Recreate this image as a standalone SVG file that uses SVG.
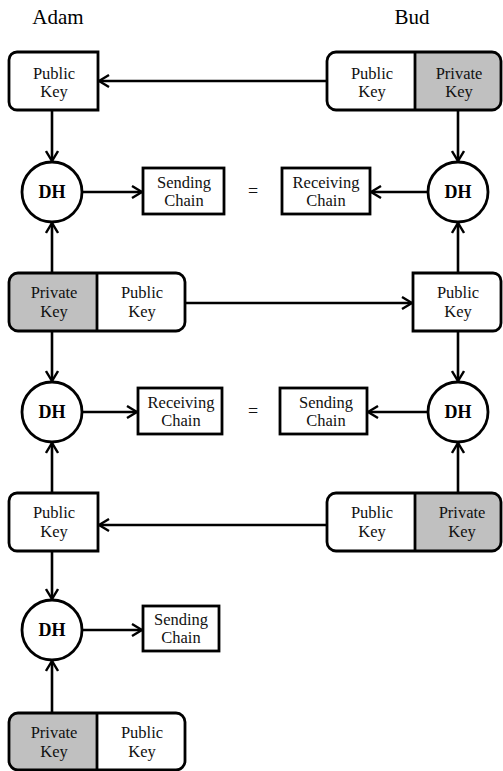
<svg xmlns="http://www.w3.org/2000/svg" width="503" height="771" viewBox="0 0 503 771">
<style>
.box{fill:#fff;stroke:#000;stroke-width:2.8}
.priv{fill:#c0c0c0;stroke:none}
.ln{stroke:#000;stroke-width:2.8;fill:none}
.t{font-family:"Liberation Serif","Times New Roman",serif;font-size:16.5px;fill:#111;text-anchor:middle}
.dh{font-family:"Liberation Serif","Times New Roman",serif;font-size:18px;font-weight:bold;fill:#000;text-anchor:middle}
.ti{font-family:"Liberation Serif","Times New Roman",serif;font-size:21px;fill:#000;text-anchor:middle}
.con{stroke:#000;stroke-width:2.6;fill:none;marker-end:url(#ah)}
</style>
<defs>
<marker id="ah" viewBox="0 0 12 14" refX="11" refY="7" markerWidth="12" markerHeight="14" markerUnits="userSpaceOnUse" orient="auto">
<path d="M1,1 L11,7 L1,13" fill="none" stroke="#000" stroke-width="2.4"/>
</marker>
</defs>
<rect width="503" height="771" fill="#fff"/>
<text class="ti" x="58" y="24">Adam</text>
<text class="ti" x="412" y="24">Bud</text>

<g id="connectors">
<line class="con" x1="326" y1="81" x2="99" y2="81"/>
<line class="con" x1="52" y1="110" x2="52" y2="161"/>
<line class="con" x1="458" y1="110" x2="458" y2="161"/>
<line class="con" x1="82" y1="192" x2="142" y2="192"/>
<line class="con" x1="428" y1="192" x2="371" y2="192"/>
<line class="con" x1="52" y1="273" x2="52" y2="223"/>
<line class="con" x1="458" y1="273" x2="458" y2="223"/>
<line class="con" x1="185" y1="303" x2="412" y2="303"/>
<line class="con" x1="52" y1="331" x2="52" y2="381"/>
<line class="con" x1="458" y1="331" x2="458" y2="381"/>
<line class="con" x1="82" y1="412" x2="137" y2="412"/>
<line class="con" x1="428" y1="412" x2="368" y2="412"/>
<line class="con" x1="52" y1="493" x2="52" y2="443"/>
<line class="con" x1="458" y1="493" x2="458" y2="443"/>
<line class="con" x1="327" y1="525" x2="99" y2="525"/>
<line class="con" x1="52" y1="551" x2="52" y2="599"/>
<line class="con" x1="82" y1="630" x2="142" y2="630"/>
<line class="con" x1="52" y1="713" x2="52" y2="661"/>
</g>

<g id="adam-pub1">
<path class="box" d="M17,52 H98 V110 H17 A8,8 0 0 1 9,102 V60 A8,8 0 0 1 17,52 Z"/>
<text class="t" x="54" y="79">Public</text>
<text class="t" x="54" y="97">Key</text>
</g>

<g id="bud-keys1">
<path class="priv" d="M415,53 H492 A9,9 0 0 1 501,62 V100 A9,9 0 0 1 492,109 H415 Z"/>
<rect class="box" x="327" y="52" width="174" height="58" rx="9" style="fill:none"/>
<line class="ln" x1="415" y1="52" x2="415" y2="110"/>
<text class="t" x="372" y="79">Public</text>
<text class="t" x="372" y="97">Key</text>
<text class="t" x="459" y="79">Private</text>
<text class="t" x="459" y="97">Key</text>
</g>

<g id="adam-dh1">
<circle class="box" cx="52" cy="192" r="30"/>
<text class="dh" x="52" y="198">DH</text>
</g>
<g id="adam-send1">
<rect class="box" x="143" y="168" width="81" height="46"/>
<text class="t" x="184" y="188">Sending</text>
<text class="t" x="184" y="206">Chain</text>
</g>
<text class="t" x="253" y="197" style="font-size:18px">=</text>
<g id="bud-recv1">
<rect class="box" x="282" y="168" width="88" height="46"/>
<text class="t" x="326" y="188">Receiving</text>
<text class="t" x="326" y="206">Chain</text>
</g>
<g id="bud-dh1">
<circle class="box" cx="458" cy="192" r="30"/>
<text class="dh" x="458" y="198">DH</text>
</g>

<g id="adam-keys2">
<path class="priv" d="M97,274 H18 A9,9 0 0 0 9,283 V321 A9,9 0 0 0 18,330 H97 Z"/>
<rect class="box" x="9" y="273" width="176" height="58" rx="9" style="fill:none"/>
<line class="ln" x1="97" y1="273" x2="97" y2="331"/>
<text class="t" x="54" y="298">Private</text>
<text class="t" x="54" y="317">Key</text>
<text class="t" x="142" y="298">Public</text>
<text class="t" x="142" y="317">Key</text>
</g>
<g id="bud-pub2">
<path class="box" d="M413,273 H493 A8,8 0 0 1 501,281 V323 A8,8 0 0 1 493,331 H413 Z"/>
<text class="t" x="458" y="298">Public</text>
<text class="t" x="458" y="317">Key</text>
</g>

<g id="adam-dh2">
<circle class="box" cx="52" cy="412" r="30"/>
<text class="dh" x="52" y="418">DH</text>
</g>
<g id="adam-recv2">
<rect class="box" x="138" y="388" width="84" height="46"/>
<text class="t" x="181" y="408">Receiving</text>
<text class="t" x="181" y="426">Chain</text>
</g>
<text class="t" x="253" y="417" style="font-size:18px">=</text>
<g id="bud-send2">
<rect class="box" x="280" y="388" width="87" height="46"/>
<text class="t" x="326" y="408">Sending</text>
<text class="t" x="326" y="426">Chain</text>
</g>
<g id="bud-dh2">
<circle class="box" cx="458" cy="412" r="30"/>
<text class="dh" x="458" y="418">DH</text>
</g>

<g id="adam-pub3">
<path class="box" d="M17,493 H98 V551 H17 A8,8 0 0 1 9,543 V501 A8,8 0 0 1 17,493 Z"/>
<text class="t" x="54" y="518">Public</text>
<text class="t" x="54" y="537">Key</text>
</g>
<g id="bud-keys3">
<path class="priv" d="M415,494 H492 A9,9 0 0 1 501,503 V541 A9,9 0 0 1 492,550 H415 Z"/>
<rect class="box" x="327" y="493" width="174" height="58" rx="9" style="fill:none"/>
<line class="ln" x1="415" y1="493" x2="415" y2="551"/>
<text class="t" x="372" y="518">Public</text>
<text class="t" x="372" y="537">Key</text>
<text class="t" x="462" y="518">Private</text>
<text class="t" x="462" y="537">Key</text>
</g>

<g id="adam-dh3">
<circle class="box" cx="52" cy="630" r="30"/>
<text class="dh" x="52" y="636">DH</text>
</g>
<g id="adam-send3">
<rect class="box" x="143" y="606" width="76" height="45"/>
<text class="t" x="181" y="625">Sending</text>
<text class="t" x="181" y="643">Chain</text>
</g>

<g id="adam-keys4">
<path class="priv" d="M97,714 H18 A9,9 0 0 0 9,723 V760 A9,9 0 0 0 18,769 H97 Z"/>
<rect class="box" x="9" y="713" width="176" height="57" rx="9" style="fill:none"/>
<line class="ln" x1="97" y1="713" x2="97" y2="770"/>
<text class="t" x="54" y="738">Private</text>
<text class="t" x="54" y="757">Key</text>
<text class="t" x="142" y="738">Public</text>
<text class="t" x="142" y="757">Key</text>
</g>
</svg>
